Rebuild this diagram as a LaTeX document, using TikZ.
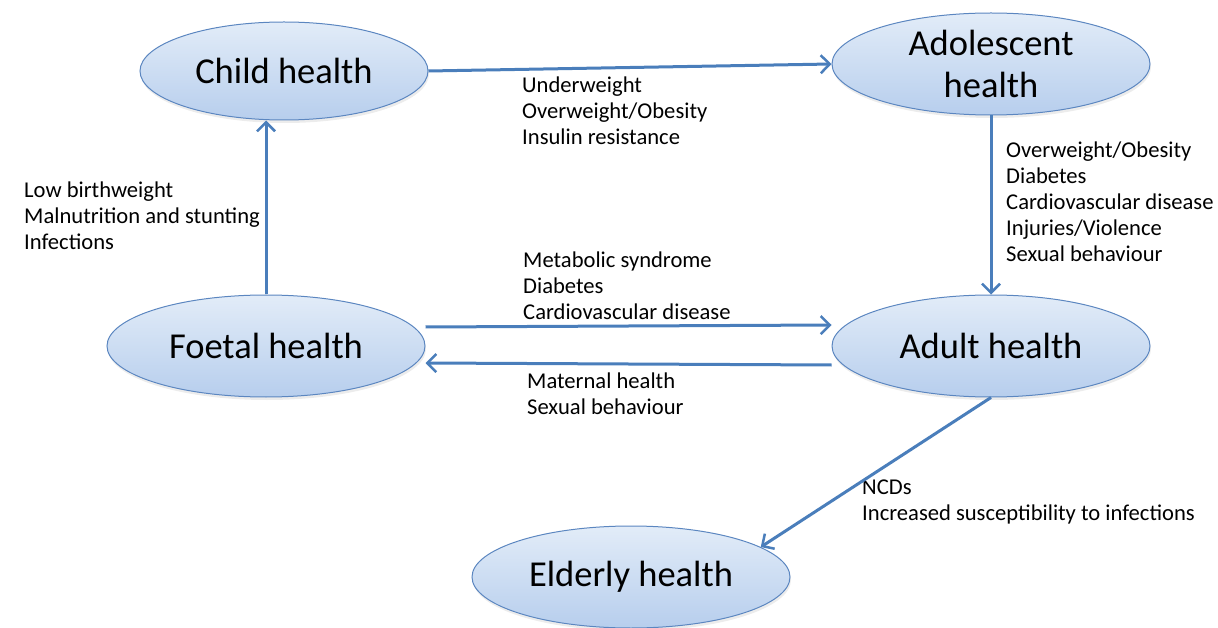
\documentclass[tikz,border=0pt]{standalone}
\usepackage{fontspec}
\setmainfont{Carlito}
\usepackage{tikz}
\usetikzlibrary{arrows.meta,shapes.geometric,shadows}
\usepackage{xcolor}
\definecolor{linkblue}{HTML}{4A7EBB}
\definecolor{rimblue}{HTML}{5B86C0}
\definecolor{topblue}{HTML}{E2ECF8}
\definecolor{botblue}{HTML}{B7CEED}

\begin{document}
\begin{tikzpicture}[x=1pt,y=-1pt]
\tikzstyle{stage} = [ellipse, draw=rimblue, line width=1pt, top color=topblue,
bottom color=botblue, inner sep=0pt, minimum width=318pt, minimum height=102pt,
align=center, font=\fontsize{36.5}{42}\selectfont,
drop shadow={opacity=0.15,shadow xshift=1pt,shadow yshift=-3pt}]
\tikzstyle{effects} = [anchor=north west, inner sep=0pt, align=left,
font=\fontsize{22.6}{26}\selectfont]
\tikzstyle{line} = [draw=linkblue, line width=3pt,
-{Straight Barb[length=9pt,width=18pt,line width=2.5pt]}]
\useasboundingbox (0,0) rectangle (1218,628);

% stages
\node [stage, minimum width=288pt, minimum height=98pt] (child) at (284,71) {Child health};
\node [stage] (adolescent) at (991,64) {Adolescent\\health};
\node [stage] (foetal) at (266,346) {Foetal health};
\node [stage] (adult) at (991,346) {Adult health};
\node [stage] (elderly) at (631,577) {Elderly health};

% what passes between them
\node [effects] (childrisk) at (24,182) {Low birthweight\\Malnutrition and stunting\\Infections};
\node [effects] (teenrisk) at (522,77) {Underweight\\Overweight/Obesity\\Insulin resistance};
\node [effects] (adultrisk) at (1006,142) {Overweight/Obesity\\Diabetes\\Cardiovascular disease\\Injuries/Violence\\Sexual behaviour};
\node [effects] (laterisk) at (523,252) {Metabolic syndrome\\Diabetes\\Cardiovascular disease};
\node [effects] (backrisk) at (527,373) {Maternal health\\Sexual behaviour};
\node [effects] (oldrisk) at (862,480) {NCDs\\Increased susceptibility to infections};

% arrows
\path [line] (foetal.north) -- (foetal.north |- child.south);
\path [line] (child.east) -- (adolescent.west);
\path [line] (adolescent.south) -- (adult.north);
\path [line] ([yshift=19pt]foetal.east) -- ([yshift=21pt]adult.west);
\path [line] ([yshift=-19pt]adult.west) -- ([yshift=-17pt]foetal.east);
\path [line] (adult.south) -- (elderly.13);

\end{tikzpicture}
\end{document}
